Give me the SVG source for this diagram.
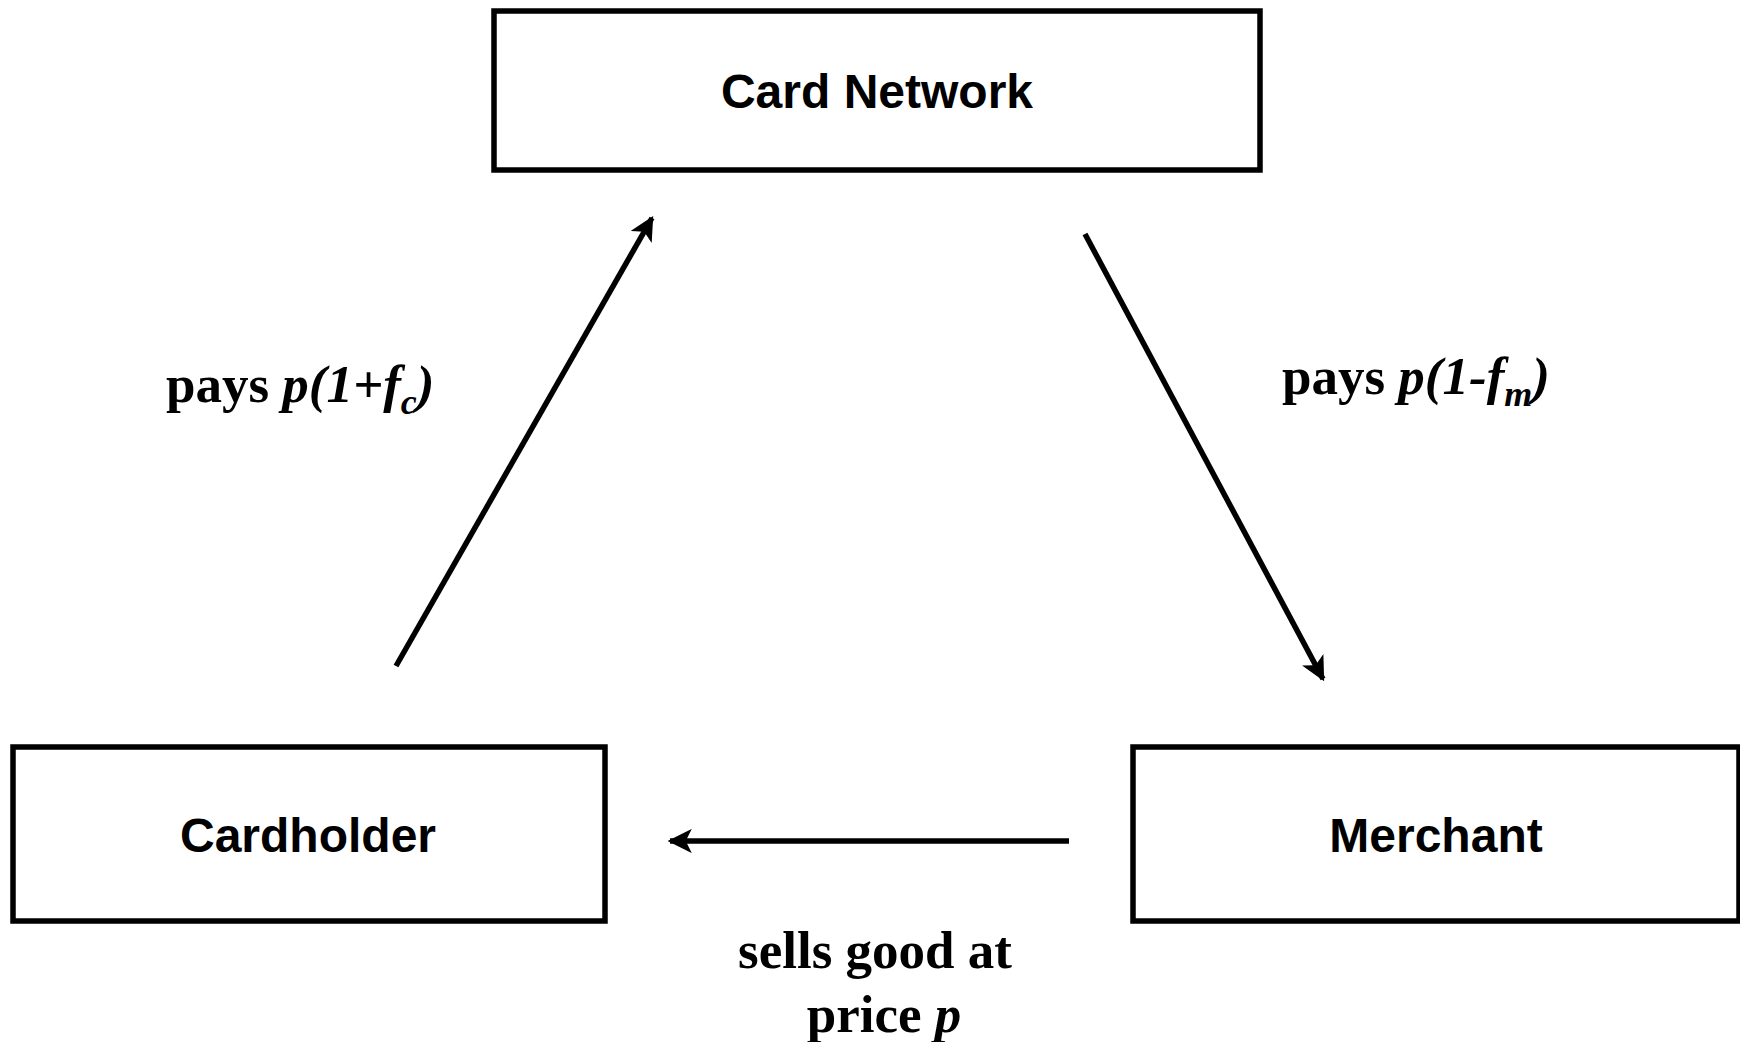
<svg xmlns="http://www.w3.org/2000/svg" width="1740" height="1042" viewBox="0 0 1740 1042">
<style>
.box{fill:#fff;stroke:#000;stroke-width:5.5}
.node{font-family:"Liberation Sans",Arial,sans-serif;font-weight:bold;font-size:48px;text-anchor:middle}
.lbl{font-family:"Liberation Serif","Times New Roman",serif;font-weight:bold;font-size:53px}
.it{font-style:italic}
.conn{stroke:#000;stroke-width:5.5;fill:none;marker-end:url(#ah)}
</style>
<defs>
<marker id="ah" viewBox="0 0 10 10" refX="9" refY="5" markerWidth="4.4" markerHeight="4.4" orient="auto" markerUnits="strokeWidth">
<path d="M0,0 L10,5 L0,10 L2.5,5 Z" fill="#000"/>
</marker>
</defs>
<rect width="1740" height="1042" fill="#fff"/>
<g id="card-network">
<rect class="box" x="494" y="11" width="766" height="159"/>
<text class="node" x="877" y="108">Card Network</text>
</g>
<g id="cardholder">
<rect class="box" x="13" y="747" width="592" height="174"/>
<text class="node" x="308" y="852">Cardholder</text>
</g>
<g id="merchant">
<rect class="box" x="1133" y="747" width="606" height="174"/>
<text class="node" x="1436" y="852">Merchant</text>
</g>
<g id="connectors">
<line class="conn" x1="396" y1="666" x2="652" y2="218"/>
<line class="conn" x1="1085" y1="234" x2="1323" y2="679"/>
<line class="conn" x1="1069" y1="841" x2="670" y2="841"/>
</g>
<g id="labels">
<text class="lbl" x="166" y="402">pays <tspan class="it">p(1+f<tspan font-size="36" dy="12">c</tspan><tspan dy="-12">)</tspan></tspan></text>
<text class="lbl" x="1282" y="394">pays <tspan class="it">p(1-f<tspan font-size="36" dy="12">m</tspan><tspan dy="-12">)</tspan></tspan></text>
<text class="lbl" x="875" y="968" text-anchor="middle">sells good at</text>
<text class="lbl" x="884" y="1032" text-anchor="middle">price <tspan class="it">p</tspan></text>
</g>
</svg>
